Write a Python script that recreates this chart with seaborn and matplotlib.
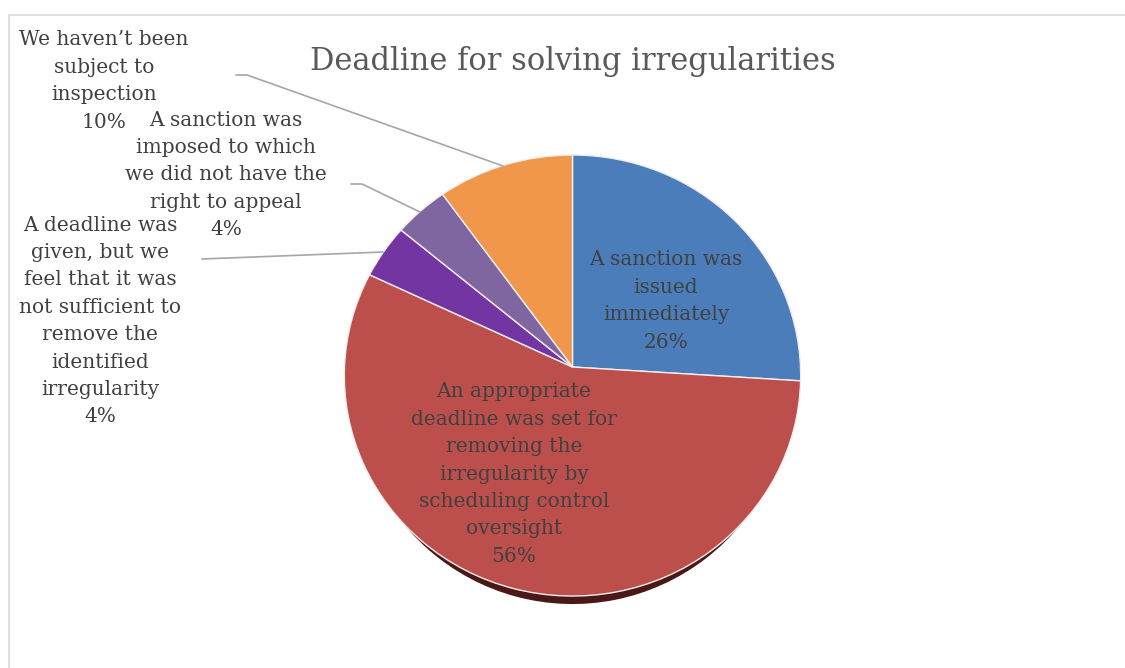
import matplotlib
matplotlib.use("Agg")
import numpy as np
import matplotlib.pyplot as plt
import matplotlib.transforms as mtransforms
import seaborn as sns

sns.set_theme(style="white")
plt.rcParams["font.family"] = ["DejaVu Serif"]

# Survey shares, in pie order (clockwise from 12 o'clock)
categories = [
    "A sanction was\nissued\nimmediately",
    "An appropriate\ndeadline was set for\nremoving the\nirregularity by\nscheduling control\noversight",
    "A deadline was\ngiven, but we\nfeel that it was\nnot sufficient to\nremove the\nidentified\nirregularity",
    "A sanction was\nimposed to which\nwe did not have the\nright to appeal",
    "We haven\u2019t been\nsubject to\ninspection",
]
values = [26, 56, 4, 4, 10]
colors = ["#4A7DBA", "#BC4F4B", "#7235A2", "#7F66A1", "#F0974B"]
title = "Deadline for solving irregularities"

W, H = 1125, 668


class TiltedDisk(mtransforms.Transform):
    """Maps the unit disk onto a slightly tilted disk (near edge larger)."""
    input_dims = output_dims = 2
    is_separable = False

    def __init__(self, cx, cy, rx, ry, k):
        super().__init__()
        self.cx, self.cy, self.rx, self.ry, self.k = cx, cy, rx, ry, k

    def transform_non_affine(self, xy):
        xy = np.asarray(xy, dtype=float)
        u, v = xy[:, 0], xy[:, 1]
        d = 1.0 + self.k * v
        return np.column_stack([self.cx + self.rx * u / d, self.cy + self.ry * v / d])


fig = plt.figure(figsize=(W / 100, H / 100), dpi=100)
fig.patch.set_facecolor("white")

# chart frame (top and left edges visible)
fig.add_artist(plt.Line2D([9 / W, 9 / W], [0, 1 - 15 / H], color="#d9d9d9", lw=1.2))
fig.add_artist(plt.Line2D([9 / W, 1], [1 - 15 / H, 1 - 15 / H], color="#d9d9d9", lw=1.2))

ax = fig.add_axes([0, 0, 1, 1])

cx, cy = 572.5, H - 367
disk = TiltedDisk(cx=cx, cy=cy, rx=228, ry=220.2, k=0.0386)

# dark shadow under the pie, slightly narrower and dropped a few pixels
shadow, _ = ax.pie(values, colors=["#4a1917"] * len(values), startangle=90,
                   counterclock=False, wedgeprops=dict(linewidth=0))
drop = (mtransforms.Affine2D().translate(-cx, -cy).scale(0.96, 1.0)
        .translate(cx, cy - 8))
for w in shadow:
    w.set_transform(disk + drop + ax.transData)

wedges, _ = ax.pie(values, colors=colors, startangle=90, counterclock=False,
                   wedgeprops=dict(linewidth=1.0, edgecolor="#f3eeee"))
for w in wedges:
    w.set_transform(disk + ax.transData)

ax.set_xlim(0, W)
ax.set_ylim(0, H)
ax.set_aspect("equal")
ax.axis("off")

txt = dict(ha="center", va="center", color="#404040", fontsize=14.5, linespacing=1.56)


def label(i, x, y):
    ax.text(x, H - y, f"{categories[i]}\n{values[i]}%", **txt)


# inside labels
label(0, 666, 301)
label(1, 514, 474)
# outside labels
label(4, 104, 81)
label(3, 226, 175)
label(2, 100, 321)

# leader lines
lc = dict(color="#a6a6a6", lw=1.2)
ax.plot([236, 247, 503], [H - 75, H - 75, H - 166], **lc)
ax.plot([351, 362, 420], [H - 184, H - 184, H - 212], **lc)
ax.plot([202, 383], [H - 259, H - 252], **lc)

ax.text(573, H - 70, title, ha="center", va="baseline", color="#595959", fontsize=22)

fig.savefig("out.png", dpi=100, facecolor="white")
